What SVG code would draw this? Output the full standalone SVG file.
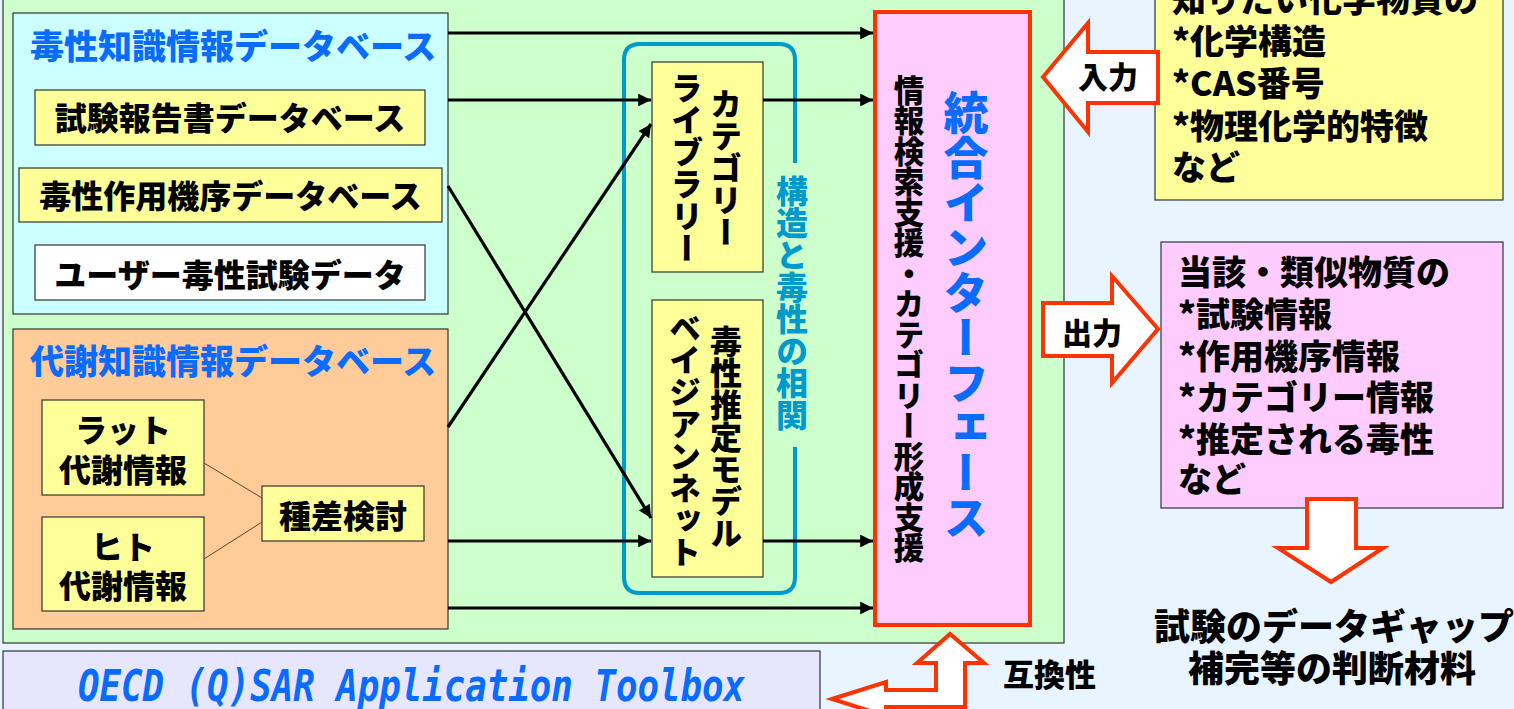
<svg xmlns="http://www.w3.org/2000/svg" width="1514" height="709" viewBox="0 0 1514 709">
<style>
.jp{font-family:"Noto Sans CJK JP","Noto Sans",sans-serif;font-weight:900;}
.blk{fill:#000;}
.blue{fill:#0A6CFF;}
.cyan{fill:#0099CC;}
.box{stroke:#333;stroke-width:1.2;}
.vert{writing-mode:vertical-rl;text-orientation:mixed;}
.conn{stroke:#000;stroke-width:3.2;fill:none;}
.blockarrow{fill:#fff;stroke:#FF3300;stroke-width:4;stroke-linejoin:miter;}
</style>
<defs>
<marker id="ah" viewBox="0 0 10 10" refX="10" refY="5" markerWidth="5" markerHeight="4" markerUnits="strokeWidth" orient="auto">
<path d="M0,0 L10,5 L0,10 z" fill="#000"/>
</marker>
</defs>
<rect x="0" y="0" width="1514" height="709" fill="#E8F4FF"/>
<g id="panel">
<rect x="3" y="-10" width="1061" height="653" fill="#CCFFCC" stroke="#333" stroke-width="1.2"/>
</g>
<g id="toxdb">
<rect x="13" y="13" width="435" height="301" fill="#CCFFFF" class="box"/>
<text x="30" y="59" font-size="34" class="jp blue">毒性知識情報データベース</text>
</g>
<g id="testreport">
<rect x="35" y="90" width="390" height="55" fill="#FFFF99" class="box"/>
<text x="230" y="130" font-size="32" text-anchor="middle" class="jp blk">試験報告書データベース</text>
</g>
<g id="moa">
<rect x="19" y="168" width="423" height="54" fill="#FFFF99" class="box"/>
<text x="230.5" y="208" font-size="32" text-anchor="middle" class="jp blk">毒性作用機序データベース</text>
</g>
<g id="userdata">
<rect x="35" y="245" width="390" height="55" fill="#FFFFFF" class="box"/>
<text x="230" y="287" font-size="32" text-anchor="middle" class="jp blk">ユーザー毒性試験データ</text>
</g>
<g id="metadb">
<rect x="13" y="329" width="435" height="300" fill="#FFCC99" class="box"/>
<text x="30" y="374" font-size="34" class="jp blue">代謝知識情報データベース</text>
</g>
<g id="rat">
<rect x="42" y="400" width="162" height="95" fill="#FFFF99" class="box"/>
<text x="123" y="442" font-size="32" text-anchor="middle" class="jp blk">ラット</text>
<text x="123" y="482" font-size="32" text-anchor="middle" class="jp blk">代謝情報</text>
</g>
<g id="human">
<rect x="42" y="517" width="162" height="94" fill="#FFFF99" class="box"/>
<text x="123" y="559" font-size="32" text-anchor="middle" class="jp blk">ヒト</text>
<text x="123" y="598" font-size="32" text-anchor="middle" class="jp blk">代謝情報</text>
</g>
<g id="species">
<rect x="262" y="486" width="162" height="55" fill="#FFFF99" class="box"/>
<text x="343" y="528" font-size="32" text-anchor="middle" class="jp blk">種差検討</text>
</g>
<g id="correlation">
<path d="M795,447 L795,577 Q795,593 779,593 L640,593 Q624,593 624,577 L624,60 Q624,44 640,44 L779,44 Q795,44 795,60 L795,163" fill="none" stroke="#0099CC" stroke-width="4"/>
<text x="792" y="175" font-size="32" class="jp cyan vert">構造と毒性の相関</text>
</g>
<g id="category">
<rect x="652" y="62" width="111" height="210" fill="#FFFF99" class="box"/>
<text x="726" y="88" font-size="32" class="jp blk vert">カテゴリー</text>
<text x="687" y="72" font-size="32" class="jp blk vert">ライブラリー</text>
</g>
<g id="bayes">
<rect x="652" y="300" width="111" height="277" fill="#FFFF99" class="box"/>
<text x="726" y="325" font-size="32" class="jp blk vert">毒性推定モデル</text>
<text x="685" y="312" font-size="32" class="jp blk vert">ベイジアンネット</text>
</g>
<g id="connectors">
<path class="conn" d="M448,33 L873,33" marker-end="url(#ah)"/>
<path class="conn" d="M448,100 L651,100" marker-end="url(#ah)"/>
<path class="conn" d="M763,100 L873,100" marker-end="url(#ah)"/>
<path class="conn" d="M448,541 L651,541" marker-end="url(#ah)"/>
<path class="conn" d="M763,541 L873,541" marker-end="url(#ah)"/>
<path class="conn" d="M448,608 L873,608" marker-end="url(#ah)"/>
<path class="conn" d="M448,186 L651,518" marker-end="url(#ah)"/>
<path class="conn" d="M448,427 L651,124" marker-end="url(#ah)"/>
<path d="M204,463 L262,498" stroke="#664422" stroke-width="1" fill="none"/>
<path d="M204,559 L262,522" stroke="#664422" stroke-width="1" fill="none"/>
</g>
<g id="interface">
<rect x="875" y="12" width="155" height="613" fill="#FFCCFF" stroke="#FF3300" stroke-width="4"/>
<text x="966" y="90" font-size="45" class="jp blue vert">統合インターフェース</text>
<text x="909" y="75" font-size="30.5" class="jp blk vert">情報検索支援・カテゴリー形成支援</text>
</g>
<g id="input">
<rect x="1155" y="-10" width="348" height="210" fill="#FFFF99" class="box"/>
<text font-size="34" class="jp blk">
<tspan x="1172" y="12">知りたい化学物質の</tspan>
<tspan x="1172" y="54">*化学構造</tspan>
<tspan x="1172" y="96">*CAS番号</tspan>
<tspan x="1172" y="139">*物理化学的特徴</tspan>
<tspan x="1172" y="180">など</tspan>
</text>
</g>
<g id="input-arrow">
<polygon class="blockarrow" points="1043,77 1088,23 1088,52 1158,52 1158,103 1088,103 1088,132"/>
<text x="1108" y="88" font-size="30" text-anchor="middle" class="jp blk">入力</text>
</g>
<g id="output">
<rect x="1161" y="242" width="342" height="266" fill="#FFCCFF" class="box"/>
<text font-size="34" class="jp blk">
<tspan x="1178" y="285">当該・類似物質の</tspan>
<tspan x="1178" y="327">*試験情報</tspan>
<tspan x="1178" y="369">*作用機序情報</tspan>
<tspan x="1178" y="410">*カテゴリー情報</tspan>
<tspan x="1178" y="452">*推定される毒性</tspan>
<tspan x="1178" y="492">など</tspan>
</text>
</g>
<g id="output-arrow">
<polygon class="blockarrow" points="1043,303 1112,303 1112,276 1158,329 1112,383 1112,356 1043,356"/>
<text x="1092" y="344" font-size="30" text-anchor="middle" class="jp blk">出力</text>
</g>
<g id="down-arrow">
<polygon class="blockarrow" points="1307,499 1356,499 1356,548 1383,548 1331,582 1278,548 1307,548"/>
</g>
<g id="conclusion">
<text x="1334" y="640" font-size="36" text-anchor="middle" class="jp blk">試験のデータギャップ</text>
<text x="1332" y="682" font-size="36" text-anchor="middle" class="jp blk">補完等の判断材料</text>
</g>
<g id="oecd">
<rect x="3" y="651" width="817" height="70" fill="#E6E6FF" class="box"/>
<text x="78" y="701" font-size="44" textLength="667" lengthAdjust="spacingAndGlyphs" font-family="DejaVu Sans Mono, monospace" font-weight="bold" font-style="italic" fill="#0A6CFF">OECD (Q)SAR Application Toolbox</text>
</g>
<g id="compat-arrow">
<polygon class="blockarrow" points="832,699 886,682 886,690 936,690 936,663 917,663 950,634 984,663 965,663 965,707 886,707 886,716"/>
<text x="1003" y="686" font-size="31" class="jp blk">互換性</text>
</g>
</svg>
